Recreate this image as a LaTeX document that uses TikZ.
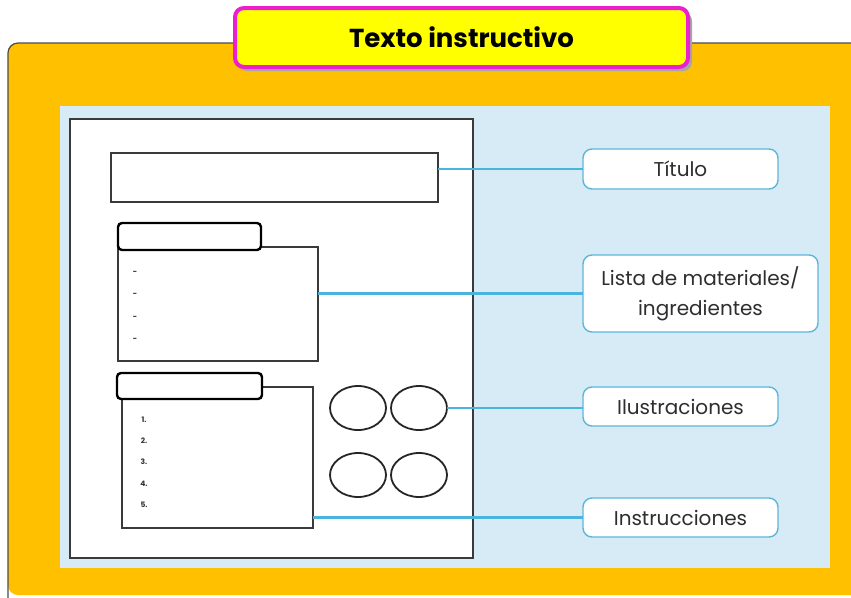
\documentclass[tikz,border=0pt]{standalone}
\usepackage{fontspec}
\setmainfont{Poppins}
\usetikzlibrary{shapes.geometric}
\definecolor{orangeC}{HTML}{FFC000}
\definecolor{skyC}{HTML}{D7EBF7}
\definecolor{magC}{HTML}{EC1FCF}
\definecolor{yelC}{HTML}{FFFF00}
\definecolor{lineC}{HTML}{4AB4DC}
\definecolor{lblC}{HTML}{5DB6D8}
\definecolor{txtC}{HTML}{2E2E2E}
\definecolor{pageC}{HTML}{3A3A3A}
\begin{document}
\begin{tikzpicture}[x=1pt,y=-1pt,
  box/.style={draw=pageC, line width=1.6pt, fill=white, inner sep=0pt, outer sep=0pt},
  headbox/.style={draw=black, line width=2.4pt, fill=white, rounded corners=4pt, inner sep=0pt, outer sep=0pt},
  oval/.style={draw=black!85, line width=1.8pt, ellipse, minimum width=56pt, minimum height=44pt, inner sep=0pt, outer sep=0pt},
  lbl/.style={draw=lblC, line width=1.4pt, fill=white, rounded corners=9pt, text=txtC, font=\fontsize{20}{30}\selectfont, align=center, inner sep=0pt, outer sep=0pt},
  conn/.style={draw=lineC, line width=2.2pt},
  small/.style={font=\bfseries\fontsize{7.5}{8}\selectfont, text=black!80, inner sep=0pt}
]
\useasboundingbox (0,0) rectangle (851,597);
\clip (0,0) rectangle (851,597);
% orange frame
\fill[orangeC, rounded corners=10pt] (8,43) rectangle (900,595);
\draw[gray!60!black, line width=1.2pt, rounded corners=10pt] (8,600) -- (8,43) -- (900,43);
% light blue panel
\fill[skyC] (60,106) rectangle (830,568);
% page
\node[box, line width=2pt, minimum width=403pt, minimum height=439pt] (page) at (271.5,338.5) {};
% title box
\node[box, minimum width=327pt, minimum height=49pt] (titlebox) at (274.5,177.5) {};
% materials
\node[box, minimum width=200pt, minimum height=114pt] (matbody) at (218,304) {};
\node[headbox, minimum width=143pt, minimum height=27pt] (mathead) at (189.5,236.5) {};
\foreach \i/\y in {1/273,2/295,3/318,4/340}
  \node[small] (dash\i) at (135,\y) {\bfseries -};
% instructions
\node[box, minimum width=191pt, minimum height=141pt] (insbody) at (217.5,457.5) {};
\node[headbox, minimum width=145pt, minimum height=26pt] (inshead) at (189.5,386) {};
\foreach \i/\y in {1/420,2/441,3/462,4/484,5/505}
  \node[small] (num\i) at (144,\y) {\i.};
% ovals
\node[oval] (o1) at (358,408) {};
\node[oval] (o2) at (419,408) {};
\node[oval] (o3) at (358,475) {};
\node[oval] (o4) at (419,475) {};
% labels
\node[lbl, minimum width=195pt, minimum height=40pt] (ltitulo) at (680.5,169) {Título};
\node[lbl, minimum width=235pt, minimum height=77pt] (llista) at (700.5,293.5) {Lista de materiales/\\ingredientes};
\node[lbl, minimum width=195pt, minimum height=39pt] (lilus) at (680.5,406.5) {Ilustraciones};
\node[lbl, minimum width=195pt, minimum height=39pt] (linst) at (680.5,517.5) {Instrucciones};
% connectors
\draw[conn] (titlebox.east |- ltitulo.west) -- (ltitulo.west);
\draw[conn] (matbody.east |- llista.west) -- (llista.west);
\draw[conn] (o2.east) -- (o2.east -| lilus.west);
\draw[conn] (insbody.east |- linst.west) -- (linst.west);
% banner
\fill[black!35, rounded corners=9pt] (238,12) rectangle (692,71);
\node[draw=magC, line width=4pt, fill=yelC, rounded corners=9pt, minimum width=453pt, minimum height=59pt, inner sep=0pt, font=\bfseries\fontsize{26}{30}\selectfont, text=black] (banner) at (461.5,37.5) {Texto instructivo};
\end{tikzpicture}
\end{document}
